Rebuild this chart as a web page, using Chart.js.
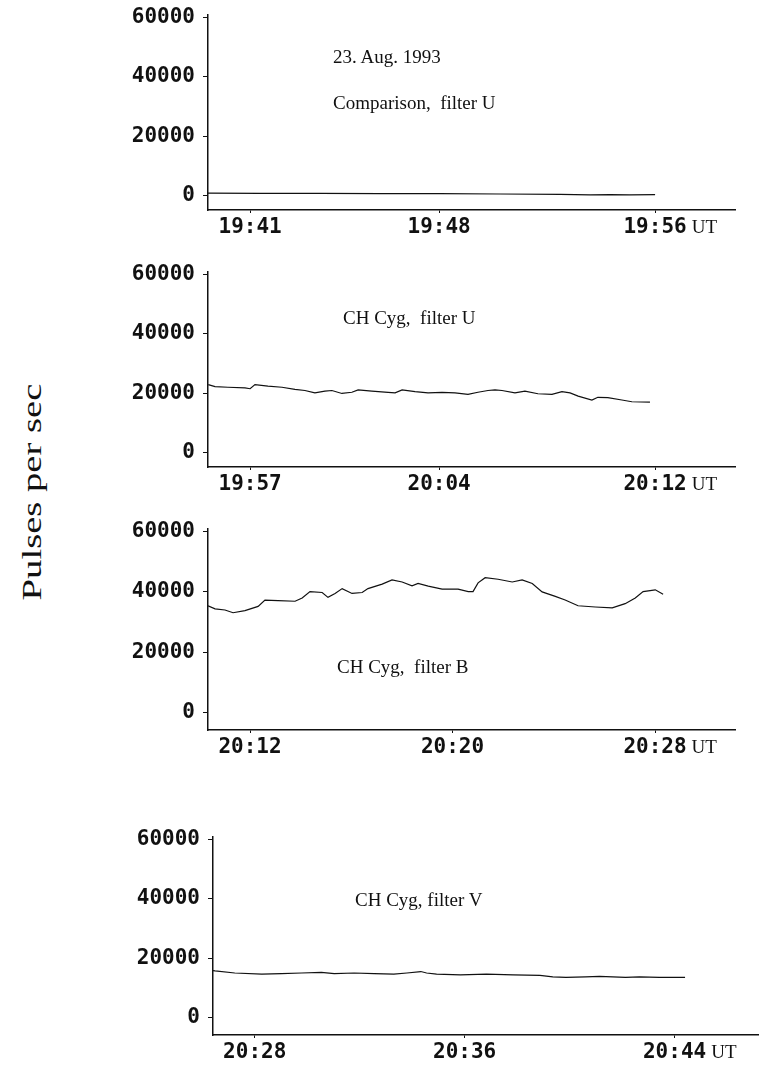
<!DOCTYPE html>
<html lang="en">
  <head>
    <meta charset="UTF-8" />
    <meta name="viewport" content="width=device-width, initial-scale=1.0" />
    <script src="https://cdn.jsdelivr.net/npm/chart.js"></script>
    <title>CH Cyg, 23 Aug 1993</title>
    <style>
      body { margin: 0; background: #fff; }
      #page { position: relative; width: 759px; height: 1065px; overflow: hidden; }
      canvas { position: absolute; left: 0; }
      .note {
        position: absolute; font-family: 'Liberation Serif', serif; font-size: 19px;
        color: #111; white-space: pre; line-height: 1;
      }
      #ylab {
        position: absolute; left: 32px; top: 492px;
        transform: translate(-50%, -50%) rotate(-90deg) scaleX(1.38);
        font-family: 'Liberation Serif', serif; font-size: 28px; color: #111; white-space: nowrap;
      }
    </style>
  </head>
  <body>
    <div id="page">
      <div id="ylab">Pulses per sec</div>
      <canvas id="c1"></canvas>
      <canvas id="c2"></canvas>
      <canvas id="c3"></canvas>
      <canvas id="c4"></canvas>
      <div class="note" style="left:333px;top:47px">23. Aug. 1993</div>
      <div class="note" style="left:333px;top:93px">Comparison,  filter U</div>
      <div class="note" style="left:343px;top:308px">CH Cyg,  filter U</div>
      <div class="note" style="left:337px;top:657px">CH Cyg,  filter B</div>
      <div class="note" style="left:355px;top:890px">CH Cyg, filter V</div>
    </div>

    <script>
      // time = minutes after 19:00 UT, values = pulses per sec
      const compTime = [39.44, 41.37, 43.59, 45.81, 48.03, 50.26, 52.48, 53.59, 54.33, 55.07, 56.0]
      const compU = [800, 700, 700, 600, 600, 500, 400, 200, 300, 200, 300]
      const compTicks = ['19:41', '19:48', '19:56']

      const uTime = [55.45, 55.7, 56.18, 56.81, 57.0, 57.18, 57.66, 58.18, 58.66, 59.03, 59.4, 59.77, 60.03, 60.4,
        60.77, 61.0, 61.51, 62.11, 62.37, 62.63, 63.11, 63.59, 64.11, 64.59, 65.07, 65.44, 65.81, 66.07, 66.33,
        66.81, 67.18, 67.66, 68.18, 68.55, 68.85, 69.15, 69.66, 69.88, 70.25, 70.77, 71.14, 71.81]
      const uValues = [22900, 22200, 22000, 21800, 21500, 22900, 22400, 22000, 21300, 20900, 20100, 20700, 20900, 19900,
        20300, 21100, 20700, 20300, 20100, 21100, 20500, 20100, 20300, 20100, 19600, 20300, 20900, 21100, 20900,
        20100, 20700, 19800, 19600, 20500, 20100, 19000, 17700, 18600, 18500, 17700, 17100, 17000]
      const uTicks = ['19:57', '20:04', '20:12']

      const bTime = [70.34, 70.62, 71.01, 71.33, 71.8, 72.32, 72.59, 73.11, 73.78, 74.06, 74.37, 74.85, 75.08, 75.36,
        75.64, 76.03, 76.43, 76.66, 77.22, 77.61, 78.01, 78.4, 78.64, 79.04, 79.59, 80.22, 80.62, 80.81, 81.01,
        81.29, 81.8, 82.36, 82.75, 83.15, 83.54, 84.06, 84.45, 84.96, 85.64, 86.31, 86.82, 87.22, 87.53, 88.01, 88.32]
      const bValues = [35400, 34400, 34000, 33100, 33800, 35200, 37300, 37100, 36900, 38000, 40100, 39800, 38200, 39500,
        41100, 39500, 39800, 41100, 42600, 44000, 43300, 42000, 42800, 41900, 40900, 40900, 40100, 40100, 43000,
        44700, 44200, 43300, 44000, 42800, 40000, 38500, 37300, 35400, 35000, 34700, 36100, 38000, 40100, 40700, 39200]
      const bTicks = ['20:12', '20:20', '20:28']

      const vTime = [86.41, 86.49, 87.24, 88.27, 89.02, 89.78, 90.54, 91.03, 91.79, 92.55, 93.3, 93.8, 94.33, 94.55,
        94.93, 95.84, 96.83, 97.85, 98.87, 99.36, 99.86, 100.61, 101.14, 101.64, 102.13, 102.66, 103.42, 104.4]
      const vValues = [15800, 15700, 15000, 14600, 14800, 15000, 15200, 14800, 15000, 14800, 14600, 15000, 15500, 15000,
        14600, 14400, 14600, 14400, 14200, 13700, 13500, 13700, 13900, 13700, 13500, 13700, 13500, 13500]
      const vTicks = ['20:28', '20:36', '20:44']

      const yTicks = [0, 20000, 40000, 60000]

      const toMin = (s) => {
        const [h, m] = s.split(':').map(Number)
        return (h - 19) * 60 + m
      }
      const fmt = (v) => {
        const h = 19 + Math.floor(v / 60)
        const m = Math.round(v % 60)
        return h + ':' + String(m).padStart(2, '0')
      }

      const ink = '#111'
      const tickFont = { family: 'DejaVu Sans Mono', weight: 'bold', size: 21 }

      // draws the serif "UT" after the last time label
      const utLabel = {
        id: 'utLabel',
        afterDraw(chart) {
          const sx = chart.scales.x
          const last = sx.ticks[sx.ticks.length - 1]
          const px = sx.getPixelForValue(last.value)
          const ctx = chart.ctx
          ctx.save()
          ctx.font = 'bold 21px "DejaVu Sans Mono"'
          const w = ctx.measureText(fmt(last.value)).width
          ctx.font = '19px "Liberation Serif"'
          ctx.fillStyle = ink
          ctx.textBaseline = 'middle'
          ctx.fillText('UT', px + w / 2 + 5, sx.top + 18)
          ctx.restore()
        },
      }

      const panels = [
        { id: 'c1', top: -6, height: 246, width: 740, axisX: 208, xmin: 39.44, xmax: 58.96, ymin: -4900, time: compTime, values: compU, ticks: compTicks },
        { id: 'c2', top: 251, height: 246, width: 740, axisX: 208, xmin: 55.44, xmax: 74.96, ymin: -4900, time: uTime, values: uValues, ticks: uTicks },
        { id: 'c3', top: 508, height: 252, width: 740, axisX: 208, xmin: 70.34, xmax: 91.16, ymin: -5800, time: bTime, values: bValues, ticks: bTicks },
        { id: 'c4', top: 816, height: 249, width: 759, axisX: 213, xmin: 86.41, xmax: 107.18, ymin: -5900, time: vTime, values: vValues, ticks: vTicks },
      ]

      for (const p of panels) {
        const canvas = document.getElementById(p.id)
        canvas.width = p.width
        canvas.height = p.height
        canvas.style.top = p.top + 'px'

        new Chart(canvas.getContext('2d'), {
          type: 'line',
          data: {
            datasets: [
              {
                data: p.time.map((t, i) => ({ x: t, y: p.values[i] })),
                borderColor: ink,
                borderWidth: 1.2,
                pointRadius: 0,
                tension: 0,
              },
            ],
          },
          options: {
            responsive: false,
            animation: false,
            layout: { padding: { top: 14, right: p.width === 759 ? 1 : 5, left: 0, bottom: 0 } },
            plugins: { legend: { display: false }, tooltip: { enabled: false } },
            scales: {
              x: {
                type: 'linear',
                min: p.xmin,
                max: p.xmax,
                afterBuildTicks: (s) => { s.ticks = p.ticks.map((t) => ({ value: toMin(t) })) },
                afterFit: (s) => { s.height = 30 },
                border: { display: true, color: ink, width: 1.5 },
                grid: { display: true, drawOnChartArea: false, drawTicks: true, tickLength: 3, color: ink },
                ticks: { color: ink, font: tickFont, padding: 2, maxRotation: 0, callback: (v) => fmt(v) },
              },
              y: {
                type: 'linear',
                min: p.ymin,
                max: 61000,
                afterBuildTicks: (s) => { s.ticks = yTicks.map((v) => ({ value: v })) },
                afterFit: (s) => { s.width = p.axisX },
                border: { display: true, color: ink, width: 1.5 },
                grid: { display: true, drawOnChartArea: false, drawTicks: true, tickLength: 5, color: ink },
                ticks: { color: ink, font: tickFont, padding: 8, callback: (v) => String(v) },
              },
            },
          },
          plugins: [utLabel],
        })
      }
    </script>
  </body>
</html>
